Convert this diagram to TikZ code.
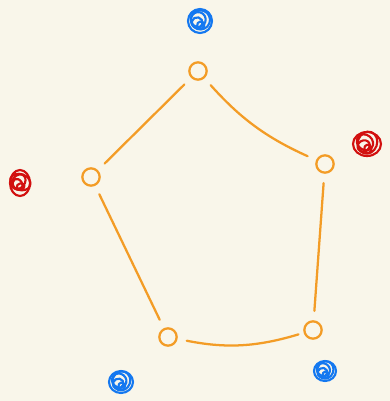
\documentclass[tikz,border=0pt]{standalone}
\usetikzlibrary{calc,positioning}
\definecolor{paper}{HTML}{F9F6EA}
\definecolor{amber}{HTML}{F39C26}
\definecolor{azure}{HTML}{1478F0}
\definecolor{crimson}{HTML}{D2100F}

\begin{document}
\begin{tikzpicture}[x=0.75pt,y=-0.75pt, line cap=round, line join=round,
    vtx/.style={circle,draw=amber,line width=1.7pt,minimum size=13pt,inner sep=0pt},
    edge/.style={draw=amber,line width=1.7pt,shorten <=7pt,shorten >=7pt}]
  \fill[paper] (0,0) rectangle (390,401);
  \useasboundingbox (0,0) rectangle (390,401);
  % pentagon of vertices
  \node[vtx] (top) at (198,71){};
  \node[vtx] (rgt) at (325,164){};
  \node[vtx] (brt) at (313,330){};
  \node[vtx] (blf) at (168,337){};
  \node[vtx] (lft) at (91,177){};
  \draw[edge] (top) -- (lft);
  \draw[edge] (top) to[bend right=12] (rgt);
  \draw[edge] (rgt) -- (brt);
  \draw[edge,shorten <=4pt] (brt) to[bend left=14] (blf);
  \draw[edge] (blf) -- (lft);
  % coloured scribbles
  \foreach \px/\py/\rx/\ry/\c in {200/21/12/12/azure, 367/144/14/12/crimson, 20/183/10/13/crimson, 121/382/12/11/azure, 325/371/11/10/azure}{
    \foreach \a/\s in {0/1, 70/0.8, 140/0.62, 210/0.45, 280/0.3}
      \draw[\c,line width=1.6pt,rotate around={\a:(\px,\py)}]
        ($(\px,\py)+({(1-\s)*\rx*0.5},0)$) ellipse ({\rx*\s} and {\ry*\s});}
\end{tikzpicture}
\end{document}
